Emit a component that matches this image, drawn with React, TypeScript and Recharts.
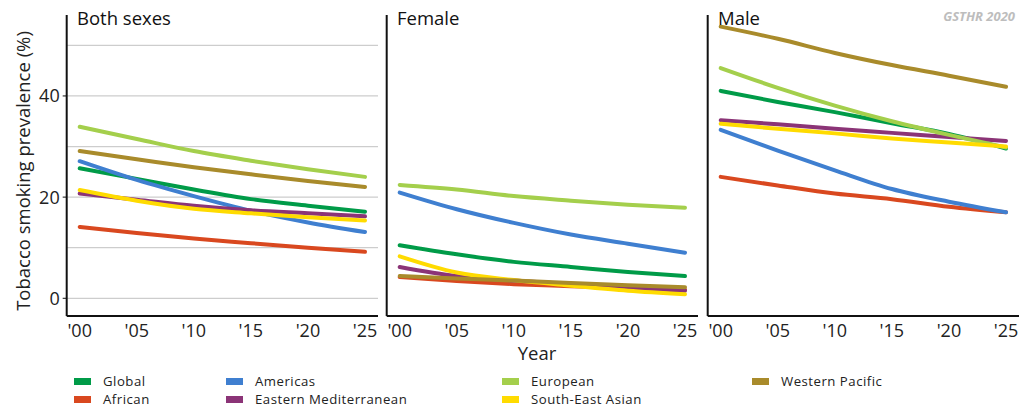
import { CartesianGrid, Line, LineChart, XAxis, YAxis } from "recharts";

const years = [2000, 2005, 2010, 2015, 2020, 2025];
const yTicks = [0, 20, 40];
const gridValues = [0, 10, 20, 30, 40, 50];

// Both sexes
const bothGlobal = [25.7, 23.6, 21.5, 19.6, 18.3, 17.1];
const bothAfrican = [14.1, 12.9, 11.8, 10.9, 10.0, 9.2];
const bothAmericas = [27.1, 23.4, 20.2, 17.3, 15.0, 13.1];
const bothEastMed = [20.7, 19.5, 18.3, 17.4, 16.8, 16.2];
const bothEuropean = [33.9, 31.5, 29.1, 27.2, 25.5, 24.0];
const bothSEAsian = [21.4, 19.3, 17.7, 16.8, 16.0, 15.4];
const bothWPacific = [29.1, 27.5, 25.9, 24.5, 23.2, 22.0];

// Female
const femGlobal = [10.5, 8.7, 7.2, 6.2, 5.2, 4.4];
const femAfrican = [4.2, 3.4, 2.8, 2.4, 2.0, 1.7];
const femAmericas = [20.9, 17.6, 14.9, 12.6, 10.8, 9.0];
const femEastMed = [6.2, 4.4, 3.5, 2.8, 2.1, 1.5];
const femEuropean = [22.4, 21.5, 20.2, 19.3, 18.5, 17.9];
const femSEAsian = [8.3, 5.1, 3.6, 2.5, 1.5, 0.8];
const femWPacific = [4.4, 3.9, 3.5, 3.0, 2.6, 2.2];

// Male
const maleGlobal = [41.0, 38.8, 36.8, 34.6, 32.5, 29.6];
const maleAfrican = [24.0, 22.3, 20.7, 19.6, 18.1, 17.0];
const maleAmericas = [33.3, 29.2, 25.3, 21.6, 19.1, 17.0];
const maleEastMed = [35.2, 34.4, 33.5, 32.7, 31.9, 31.1];
const maleEuropean = [45.5, 41.6, 38.1, 35.0, 32.3, 29.8];
const maleSEAsian = [34.5, 33.5, 32.6, 31.6, 30.8, 30.0];
const maleWPacific = [53.7, 51.3, 48.5, 46.1, 44.0, 41.8];

const regions = [
  { key: "Global", color: "#009b48" },
  { key: "African", color: "#d9481f" },
  { key: "Americas", color: "#3f7fd0" },
  { key: "Eastern Mediterranean", color: "#8b3477" },
  { key: "European", color: "#a4cf4c" },
  { key: "South-East Asian", color: "#ffdb00" },
  { key: "Western Pacific", color: "#a98b2b" },
];

// legend columns, in reading order
const legendColumns = [
  ["Global", "African"],
  ["Americas", "Eastern Mediterranean"],
  ["European", "South-East Asian"],
  ["Western Pacific"],
];
const legendX = [74, 226, 502, 752];
const legendY = [381, 399];

const font = "'Open Sans', sans-serif";

function buildRows(series: number[][]) {
  return years.map((year, i) => {
    const row: any = { year };
    regions.forEach((r, j) => {
      row[r.key] = series[j][i];
    });
    return row;
  });
}

const bothRows = buildRows([bothGlobal, bothAfrican, bothAmericas, bothEastMed, bothEuropean, bothSEAsian, bothWPacific]);
const femRows = buildRows([femGlobal, femAfrican, femAmericas, femEastMed, femEuropean, femSEAsian, femWPacific]);
const maleRows = buildRows([maleGlobal, maleAfrican, maleAmericas, maleEastMed, maleEuropean, maleSEAsian, maleWPacific]);

function Panel({ data, left, title, showY }: any) {
  return (
    <div style={{ position: "absolute", left, top: 0 }}>
      <LineChart width={380} height={408} data={data} margin={{ top: 15, right: 2, bottom: 62, left: 0 }}>
        <CartesianGrid vertical={false} horizontalValues={gridValues} stroke="#cdcdcd" strokeWidth={1.3} />
        <XAxis
          dataKey="year"
          type="number"
          domain={[2000, 2025]}
          ticks={years}
          interval={0}
          tickFormatter={(v: number) => "'" + String(v).slice(2)}
          padding={{ left: 13, right: 13 }}
          height={30}
          axisLine={{ stroke: "#111", strokeWidth: 2 }}
          tickLine={false}
          tick={{ fontSize: 18, fill: "#222", fontFamily: font }}
        />
        <YAxis
          width={66.7}
          type="number"
          domain={[-3.5, 56]}
          allowDataOverflow
          ticks={yTicks}
          interval={0}
          axisLine={{ stroke: "#111", strokeWidth: 2 }}
          tickLine={showY ? { stroke: "#111", strokeWidth: 1 } : false}
          tickSize={4}
          tickMargin={3}
          tick={showY ? { fontSize: 18, fill: "#222", fontFamily: font } : false}
        />
        {regions.map((r) => (
          <Line
            key={r.key}
            dataKey={r.key}
            type="monotone"
            stroke={r.color}
            strokeWidth={4}
            strokeLinecap="round"
            dot={false}
            activeDot={false}
            isAnimationActive={false}
          />
        ))}
      </LineChart>
      <div
        style={{
          position: "absolute",
          left: 77,
          top: 9,
          fontSize: 18.5,
          lineHeight: "18px",
          fontFamily: font,
          color: "#111",
          whiteSpace: "nowrap",
        }}
      >
        {title}
      </div>
    </div>
  );
}

export default function App() {
  const colorOf = (k: string) => regions.find((r) => r.key === k)!.color;
  return (
    <div style={{ position: "absolute", left: 0, top: 0, width: 1029, height: 408, background: "#fff", fontFamily: font }}>
      <Panel data={bothRows} left={0} title="Both sexes" showY />
      <Panel data={femRows} left={320} title="Female" />
      <Panel data={maleRows} left={641} title="Male" />

      <div
        style={{
          position: "absolute",
          right: 14,
          top: 8,
          fontSize: 13,
          lineHeight: "16px",
          fontWeight: 700,
          fontStyle: "italic",
          color: "#bdbdbd",
        }}
      >
        GSTHR 2020
      </div>

      <div
        style={{
          position: "absolute",
          left: 23 - 150,
          top: 171 - 12,
          width: 300,
          height: 24,
          lineHeight: "24px",
          textAlign: "center",
          fontSize: 18.5,
          color: "#222",
          transform: "rotate(-90deg)",
          whiteSpace: "nowrap",
        }}
      >
        Tobacco smoking prevalence (%)
      </div>

      <div
        style={{
          position: "absolute",
          left: 537 - 50,
          top: 344,
          width: 100,
          textAlign: "center",
          fontSize: 18.5,
          lineHeight: "18px",
          color: "#222",
        }}
      >
        Year
      </div>

      {legendColumns.map((col, ci) =>
        col.map((k, ri) => (
          <div
            key={k}
            style={{
              position: "absolute",
              left: legendX[ci],
              top: legendY[ri] - 7,
              height: 14,
              lineHeight: "14px",
              display: "flex",
              alignItems: "center",
              fontSize: 13.2,
              letterSpacing: 0.5,
              color: "#222",
              whiteSpace: "nowrap",
            }}
          >
            <span style={{ display: "inline-block", width: 17, height: 7, background: colorOf(k), marginRight: 12 }} />
            {k}
          </div>
        ))
      )}
    </div>
  );
}
